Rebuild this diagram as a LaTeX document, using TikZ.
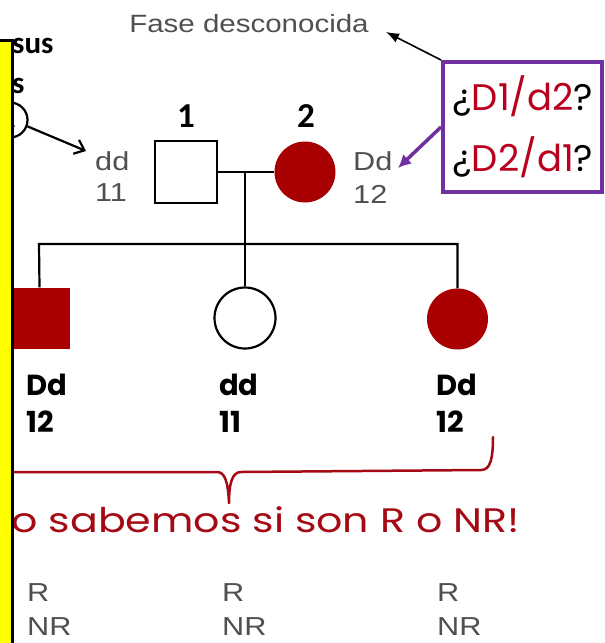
\documentclass[tikz,border=0pt]{standalone}
\usepackage{graphicx}
\usepackage{fontspec}
\setmainfont{Liberation Sans}
\newfontfamily\comicf{Poppins}
\newfontfamily\calibf{Carlito}
\usetikzlibrary{arrows.meta}
\definecolor{dred}{RGB}{168,0,0}
\definecolor{tred}{RGB}{165,10,20}
\definecolor{qred}{RGB}{185,0,30}
\definecolor{purp}{RGB}{112,48,160}
\definecolor{gtext}{RGB}{80,80,80}
\definecolor{ylw}{RGB}{255,255,0}
\newcommand\gstretch[1]{\scalebox{1.18}[1]{#1}}
\begin{document}
\begin{tikzpicture}[x=1pt,y=-1pt,
  glabel/.style={text=gtext, font=\fontsize{26}{26}\selectfont, inner sep=0pt, anchor=west},
  clabel/.style={text=black, font=\comicf\bfseries\fontsize{29}{29}\selectfont, inner sep=0pt, anchor=west},
  numlabel/.style={font=\calibf\bfseries\fontsize{35}{35}\selectfont, inner sep=0pt},
  pline/.style={line width=2.2pt, black},
  male/.style={rectangle, minimum size=62pt, inner sep=0pt},
  female/.style={circle, minimum size=61pt, inner sep=0pt},
  qtext/.style={font=\comicf\fontsize{37}{37}\selectfont, inner sep=0pt}
]
\useasboundingbox (0,0) rectangle (605,643);
\fill[white] (0,0) rectangle (605,643);

% top note
\node[text=gtext, font=\fontsize{25}{25}\selectfont, inner sep=0pt] (fase) at (249,24) {\gstretch{Fase desconocida}};
\coordinate (fasetip) at (386,32);

% purple box
\node[draw=purp, line width=4pt, minimum width=159pt, minimum height=130pt, inner sep=0pt] (box) at (522.5,127) {};
\node[qtext] (q1) at (523,96) {¿\textcolor{qred}{D1/d2}?};
\node[qtext] (q2) at (523,157) {¿\textcolor{qred}{D2/d1}?};
\draw[line width=1.6pt, -{Latex[length=13pt,width=10pt]}] (box.north west) -- (fasetip);

% parents
\node[male, draw, line width=2.2pt] (p1) at (186,172) {};
\node[female, fill=dred] (p2) at (305,172) {};
\node[numlabel] (n1) at (186,116) {1};
\node[numlabel] (n2) at (306,116) {2};
\node[glabel] (p1g) at (95,161) {\gstretch{dd}};
\node[glabel] (p1m) at (95,193) {\gstretch{11}};
\node[glabel] (p2g) at (353,161) {\gstretch{Dd}};
\node[glabel] (p2m) at (353,194) {\gstretch{12}};
\coordinate (dtip) at (398,168);
\draw[purp, line width=3.5pt, -{Latex[length=13pt,width=13pt]}] (box.west) -- (dtip);

% pedigree lines
\coordinate (m) at (245,172);
\coordinate (sl) at (39,244);
\coordinate (sr) at (457.5,244);
\draw[pline] (p1.east) -- (p2.west);
\node[female, draw, line width=2.2pt] (c2) at (245,318) {};
\node[male, fill=dred, minimum size=61pt] (c1) at (39.5,318) {};
\node[female, fill=dred] (c3) at (457.5,319) {};
\draw[pline] (m) -- (c2.north);
\draw[pline] (c1.north) -- (sl) -- (sr) -- (c3.north);

% children labels
\node[clabel] (c1g) at (26,385) {Dd};
\node[clabel] (c1m) at (26,422) {12};
\node[clabel] (c2g) at (219,385) {dd};
\node[clabel] (c2m) at (219,422) {11};
\node[clabel] (c3g) at (436,385) {Dd};
\node[clabel] (c3m) at (436,422) {12};

% brace
\draw[tred, line width=2.5pt, line cap=round, line join=round]
  (8,472) -- (217,472) .. controls (225,472) and (228,482) .. (229,503)
  .. controls (229,484) and (232,472) .. (241,472) -- (481,470)
  .. controls (490,470) and (493,460) .. (493,437);
\node[text=tred, font=\comicf\fontsize{34}{34}\selectfont, inner sep=0pt, anchor=base east] (nos) at (520,532) {\scalebox{1.21}[1]{¡No sabemos si son R o NR!}};

% R / NR
\node[glabel] (r1) at (27,593) {\gstretch{R}};
\node[glabel] (nr1) at (27,627) {\gstretch{NR}};
\node[glabel] (r2) at (222,593) {\gstretch{R}};
\node[glabel] (nr2) at (222,627) {\gstretch{NR}};
\node[glabel] (r3) at (437,593) {\gstretch{R}};
\node[glabel] (nr3) at (437,627) {\gstretch{NR}};

% left fragments
\node[font=\calibf\bfseries\fontsize{31}{31}\selectfont, inner sep=0pt, anchor=west] (sus) at (12,46) {sus};
\node[font=\calibf\bfseries\fontsize{31}{31}\selectfont, inner sep=0pt, anchor=west] (s2) at (12,86) {s};
\node[circle, draw, line width=2.2pt, minimum size=35pt, inner sep=0pt, font=\calibf\bfseries\fontsize{22}{22}\selectfont] (ci) at (10,120) {1};
\coordinate (ddtip) at (86,151);
\draw[line width=2.2pt, -{Straight Barb[length=9pt,width=15pt]}] (ci.-20) -- (ddtip);

% yellow panel
\fill[ylw] (0,40) rectangle (12,643);
\draw[line width=3pt] (0,40) -- (12,40) -- (12,643);
\end{tikzpicture}
\end{document}
